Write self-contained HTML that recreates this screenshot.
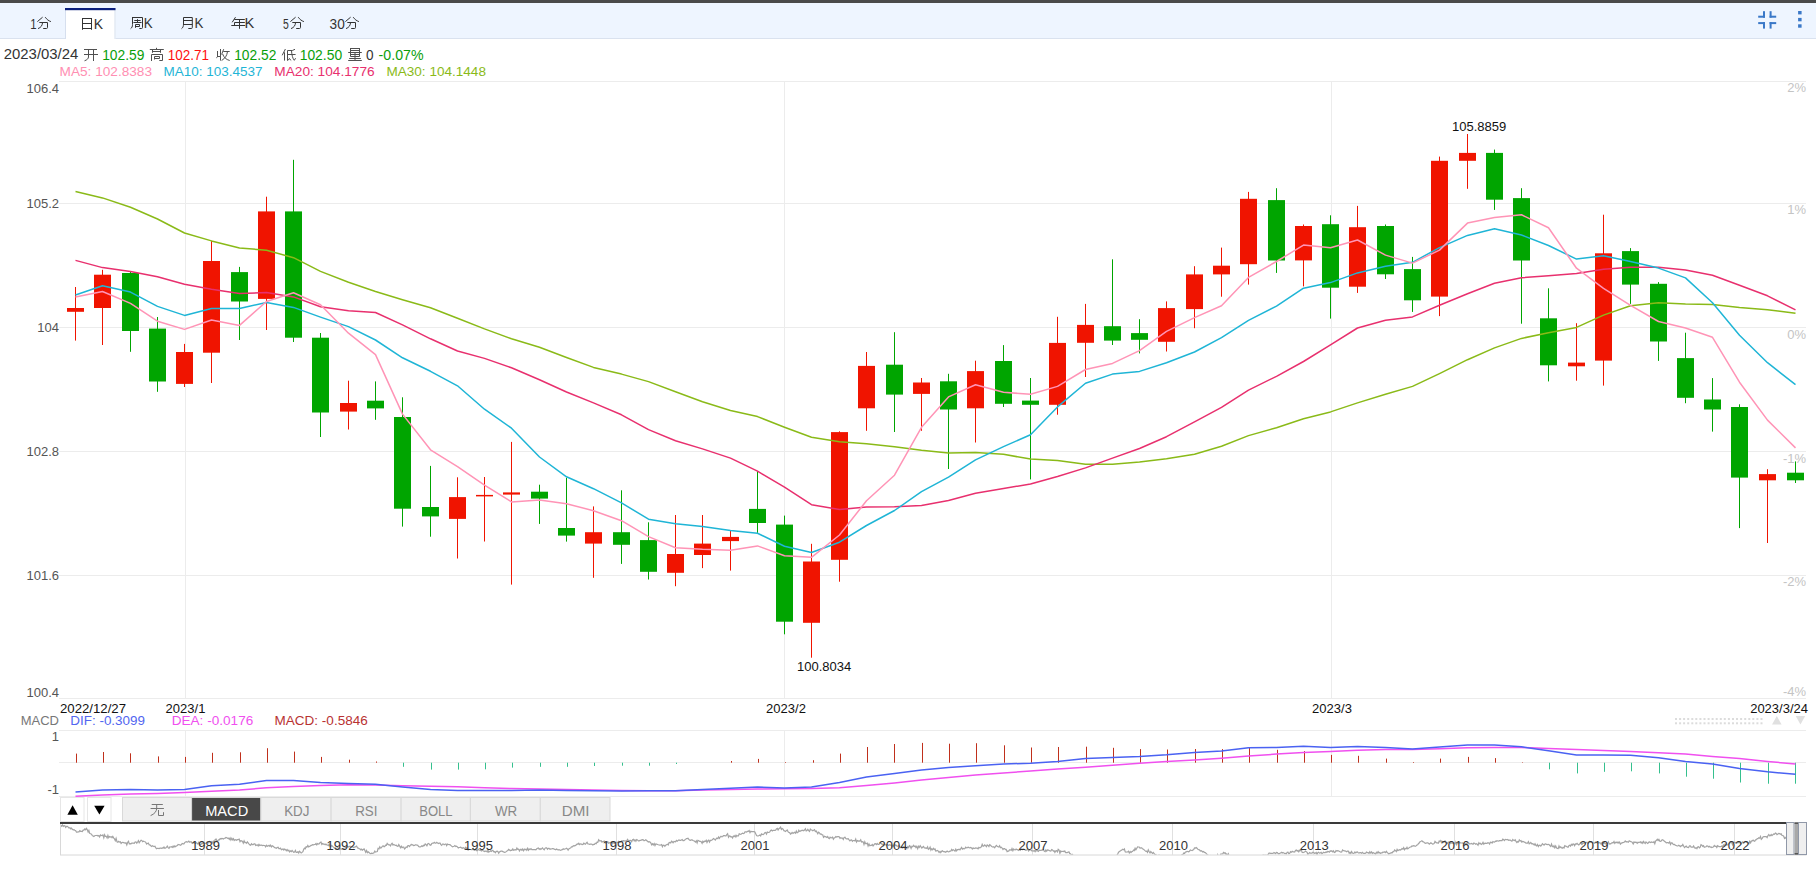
<!DOCTYPE html>
<html><head><meta charset="utf-8">
<style>
html,body{margin:0;padding:0;}
body{width:1816px;height:888px;overflow:hidden;background:#fff;position:relative;font-family:"Liberation Sans",sans-serif;}
svg{position:absolute;left:0;top:0;display:block;}
svg text{font-family:"Liberation Sans",sans-serif;}
</style></head><body>
<svg width="1816" height="888" viewBox="0 0 1816 888">
<rect x="0" y="0" width="1816" height="3" fill="#4a4a4a"/>
<rect x="0" y="3" width="1816" height="35" fill="#eef5ff"/>
<rect x="0" y="38" width="1816" height="1" fill="#dae2ef"/>
<rect x="65" y="8" width="50.5" height="31" fill="#fff"/>
<rect x="65" y="8" width="1" height="31" fill="#d6dfee"/>
<rect x="114.5" y="8" width="1" height="31" fill="#d6dfee"/>
<rect x="65" y="8" width="50.5" height="2.2" fill="#0b1f7c"/>
<path d="M42.6,17.2 L37.4,21.6 M45.2,17.2 C47,19.5 48.5,20.8 50.9,21.6 M39.3,22.5 H47.5 V27.5 C47.5,28.2 47.2,28.5 46.3,28.5 H43.2 M42.5,22.8 C42.3,25.5 41,27.5 38,28.6" fill="none" stroke="#333" stroke-width="1"/>
<path d="M82.5,18 V29.8 M91.5,18 V29.8 M82.5,18.5 H91.5 M82.5,23.5 H91.5 M82.5,28.5 H91.5" fill="none" stroke="#333" stroke-width="1"/>
<path d="M132,17.5 H142.5 V27.5 C142.5,28.2 142.2,28.5 141.5,28.5 H139.3 M132.5,17.5 V24.5 C132.5,26.5 132,27.8 130.6,28.7 M134.3,20.5 H140.6 M137.5,19.2 V22.5 M133.4,22.5 H141.6 M135.5,27.8 V24.5 H139.5 V26.5 H135.5" fill="none" stroke="#333" stroke-width="1"/>
<path d="M183.5,17.5 H192.3 V27.5 C192.3,28.2 192,28.5 191.3,28.5 H188.3 M183.5,17.5 V24 C183.5,26.2 183,27.7 181.5,28.7 M183.5,20.5 H192.3 M183.5,24.5 H192.3" fill="none" stroke="#333" stroke-width="1"/>
<path d="M235.5,17.2 L232.2,22.3 M234.3,19.5 H244.8 M234.5,22.5 H244.8 M234.5,22.5 V25.5 M231.3,25.5 H245.2 M239.5,19.5 V28.8" fill="none" stroke="#333" stroke-width="1"/>
<path d="M42.6,17.2 L37.4,21.6 M45.2,17.2 C47,19.5 48.5,20.8 50.9,21.6 M39.3,22.5 H47.5 V27.5 C47.5,28.2 47.2,28.5 46.3,28.5 H43.2 M42.5,22.8 C42.3,25.5 41,27.5 38,28.6" transform="translate(253,0)" fill="none" stroke="#333" stroke-width="1"/>
<path d="M42.6,17.2 L37.4,21.6 M45.2,17.2 C47,19.5 48.5,20.8 50.9,21.6 M39.3,22.5 H47.5 V27.5 C47.5,28.2 47.2,28.5 46.3,28.5 H43.2 M42.5,22.8 C42.3,25.5 41,27.5 38,28.6" transform="translate(308,0)" fill="none" stroke="#333" stroke-width="1"/>
<rect x="1763" y="11.2" width="2" height="6.5" fill="#3a78c8"/>
<rect x="1758.2" y="15.7" width="6.8" height="2" fill="#3a78c8"/>
<rect x="1769.6" y="11.2" width="2" height="6.5" fill="#3a78c8"/>
<rect x="1769.6" y="15.7" width="6.6" height="2" fill="#3a78c8"/>
<rect x="1758.2" y="22.1" width="6.8" height="2" fill="#3a78c8"/>
<rect x="1763" y="22.1" width="2" height="6.5" fill="#3a78c8"/>
<rect x="1769.6" y="22.1" width="6.6" height="2" fill="#3a78c8"/>
<rect x="1769.6" y="22.1" width="2" height="6.5" fill="#3a78c8"/>
<rect x="1798.1" y="11" width="3.5" height="3.4" fill="#3a78c8"/>
<rect x="1798.1" y="17.9" width="3.5" height="3.4" fill="#3a78c8"/>
<rect x="1798.1" y="24.3" width="3.5" height="3.4" fill="#3a78c8"/>
<path d="M84,49.5 H97 M84,54.5 H98 M88.5,49.5 V57 C88.5,58.5 87,60 84.5,60.8 M93.5,49.5 V61" fill="none" stroke="#505050" stroke-width="1"/>
<path d="M156.5,47.8 V49.5 M149.8,49.5 H163.8 M152.5,50 V52.8 M160.5,50 V52.8 M152.5,51.5 H160.5 M151.5,61 V54.5 H162.5 V60.5 H159.3 M154.5,59.5 V56.5 H159.5 V58.5 H154.5" fill="none" stroke="#505050" stroke-width="1"/>
<path d="M217.5,51 V57 L216.3,57.8 M217.5,56.5 H220 M220.5,49 V60.6 M223.7,49.2 L221.6,54.5 M223.3,51.5 H229.7 M227.4,52 C227,55.5 225,58.5 221.6,60.5 M222.6,54 C224,57.5 226,59.5 229.7,60.5" fill="none" stroke="#505050" stroke-width="1"/>
<path d="M285.4,49 L282.2,55.3 M284.5,52.3 V60.6 M287.5,50.5 H292.3 L295,49.3 M287.5,50.5 V60.5 L289.5,58.8 M287.5,54.5 H295.6 M291.5,50.8 C291.8,55 292.8,59 294.3,60.3 L295.6,58.2 M288.8,58.2 L291.2,60.4" fill="none" stroke="#505050" stroke-width="1"/>
<path d="M350.5,48 V56.5 M359.5,48 V56.5 M350.5,48.5 H359.5 M350.5,50.5 H359.5 M348.2,52.5 H361.8 M350.5,54.5 H359.5 M350.5,56.5 H359.5 M355,52.5 V60.5 M349.2,58.5 H360.8 M348.2,60.5 H361.8" fill="none" stroke="#505050" stroke-width="1"/>
<line x1="59" y1="81.5" x2="1806" y2="81.5" stroke="#ececec" stroke-width="1"/>
<line x1="59" y1="203.5" x2="1806" y2="203.5" stroke="#ececec" stroke-width="1"/>
<line x1="59" y1="327.5" x2="1806" y2="327.5" stroke="#ececec" stroke-width="1"/>
<line x1="59" y1="451.5" x2="1806" y2="451.5" stroke="#ececec" stroke-width="1"/>
<line x1="59" y1="575.5" x2="1806" y2="575.5" stroke="#ececec" stroke-width="1"/>
<line x1="59" y1="698.5" x2="1806" y2="698.5" stroke="#ececec" stroke-width="1"/>
<line x1="185.5" y1="81.5" x2="185.5" y2="698.5" stroke="#ececec" stroke-width="1"/>
<line x1="784.5" y1="81.5" x2="784.5" y2="698.5" stroke="#ececec" stroke-width="1"/>
<line x1="1331.5" y1="81.5" x2="1331.5" y2="698.5" stroke="#ececec" stroke-width="1"/>
<line x1="59" y1="730.5" x2="1806" y2="730.5" stroke="#ececec" stroke-width="1"/>
<line x1="59" y1="762.5" x2="1806" y2="762.5" stroke="#ececec" stroke-width="1"/>
<line x1="59" y1="796.5" x2="1806" y2="796.5" stroke="#ececec" stroke-width="1"/>
<line x1="185.5" y1="730.5" x2="185.5" y2="796.5" stroke="#ececec" stroke-width="1"/>
<line x1="784.5" y1="730.5" x2="784.5" y2="796.5" stroke="#ececec" stroke-width="1"/>
<line x1="1331.5" y1="730.5" x2="1331.5" y2="796.5" stroke="#ececec" stroke-width="1"/>
<rect x="75" y="287.0" width="1" height="53.6" fill="#f01400"/>
<rect x="67" y="308.0" width="17" height="3.8" fill="#f01400"/>
<rect x="102" y="269.8" width="1" height="75.2" fill="#f01400"/>
<rect x="94" y="274.7" width="17" height="33.3" fill="#f01400"/>
<rect x="130" y="272.0" width="1" height="79.8" fill="#00a500"/>
<rect x="122" y="273.0" width="17" height="58.0" fill="#00a500"/>
<rect x="157" y="317.0" width="1" height="74.8" fill="#00a500"/>
<rect x="149" y="328.6" width="17" height="52.9" fill="#00a500"/>
<rect x="184" y="343.9" width="1" height="43.1" fill="#f01400"/>
<rect x="176" y="352.0" width="17" height="31.9" fill="#f01400"/>
<rect x="211" y="240.8" width="1" height="142.2" fill="#f01400"/>
<rect x="203" y="261.0" width="17" height="91.7" fill="#f01400"/>
<rect x="239" y="266.9" width="1" height="73.1" fill="#00a500"/>
<rect x="231" y="272.1" width="17" height="29.4" fill="#00a500"/>
<rect x="266" y="196.7" width="1" height="133.3" fill="#f01400"/>
<rect x="258" y="211.4" width="17" height="87.5" fill="#f01400"/>
<rect x="293" y="159.8" width="1" height="182.2" fill="#00a500"/>
<rect x="285" y="211.4" width="17" height="126.3" fill="#00a500"/>
<rect x="320" y="333.0" width="1" height="104.0" fill="#00a500"/>
<rect x="312" y="337.7" width="17" height="74.8" fill="#00a500"/>
<rect x="348" y="380.7" width="1" height="48.8" fill="#f01400"/>
<rect x="340" y="403.0" width="17" height="8.6" fill="#f01400"/>
<rect x="375" y="381.4" width="1" height="38.4" fill="#00a500"/>
<rect x="367" y="400.7" width="17" height="7.7" fill="#00a500"/>
<rect x="402" y="397.3" width="1" height="129.3" fill="#00a500"/>
<rect x="394" y="417.0" width="17" height="91.7" fill="#00a500"/>
<rect x="430" y="465.9" width="1" height="70.8" fill="#00a500"/>
<rect x="422" y="507.0" width="17" height="9.4" fill="#00a500"/>
<rect x="457" y="477.3" width="1" height="81.2" fill="#f01400"/>
<rect x="449" y="497.1" width="17" height="21.8" fill="#f01400"/>
<rect x="484" y="477.0" width="1" height="64.5" fill="#f01400"/>
<rect x="476" y="494.9" width="17" height="1.5" fill="#f01400"/>
<rect x="511" y="441.9" width="1" height="142.7" fill="#f01400"/>
<rect x="503" y="492.4" width="17" height="2.2" fill="#f01400"/>
<rect x="539" y="484.7" width="1" height="39.2" fill="#00a500"/>
<rect x="531" y="491.7" width="17" height="6.9" fill="#00a500"/>
<rect x="566" y="477.7" width="1" height="63.9" fill="#00a500"/>
<rect x="558" y="528.0" width="17" height="7.6" fill="#00a500"/>
<rect x="593" y="506.4" width="1" height="71.4" fill="#f01400"/>
<rect x="585" y="532.2" width="17" height="11.4" fill="#f01400"/>
<rect x="621" y="490.3" width="1" height="73.6" fill="#00a500"/>
<rect x="613" y="532.2" width="17" height="12.6" fill="#00a500"/>
<rect x="648" y="522.3" width="1" height="57.2" fill="#00a500"/>
<rect x="640" y="540.1" width="17" height="31.7" fill="#00a500"/>
<rect x="675" y="515.0" width="1" height="71.2" fill="#f01400"/>
<rect x="667" y="554.0" width="17" height="18.8" fill="#f01400"/>
<rect x="702" y="515.0" width="1" height="53.1" fill="#f01400"/>
<rect x="694" y="543.6" width="17" height="11.4" fill="#f01400"/>
<rect x="730" y="530.9" width="1" height="39.7" fill="#f01400"/>
<rect x="722" y="536.9" width="17" height="4.2" fill="#f01400"/>
<rect x="757" y="471.2" width="1" height="61.7" fill="#00a500"/>
<rect x="749" y="508.9" width="17" height="14.1" fill="#00a500"/>
<rect x="784" y="515.6" width="1" height="118.7" fill="#00a500"/>
<rect x="776" y="524.6" width="17" height="97.1" fill="#00a500"/>
<rect x="811" y="543.8" width="1" height="113.9" fill="#f01400"/>
<rect x="803" y="561.5" width="17" height="61.3" fill="#f01400"/>
<rect x="839" y="431.3" width="1" height="150.4" fill="#f01400"/>
<rect x="831" y="432.1" width="17" height="127.7" fill="#f01400"/>
<rect x="866" y="352.0" width="1" height="78.8" fill="#f01400"/>
<rect x="858" y="365.9" width="17" height="42.4" fill="#f01400"/>
<rect x="894" y="332.2" width="1" height="99.8" fill="#00a500"/>
<rect x="886" y="364.7" width="17" height="29.9" fill="#00a500"/>
<rect x="921" y="378.0" width="1" height="52.8" fill="#f01400"/>
<rect x="913" y="382.5" width="17" height="11.4" fill="#f01400"/>
<rect x="948" y="373.8" width="1" height="95.2" fill="#00a500"/>
<rect x="940" y="381.3" width="17" height="28.2" fill="#00a500"/>
<rect x="975" y="360.7" width="1" height="81.8" fill="#f01400"/>
<rect x="967" y="371.1" width="17" height="37.2" fill="#f01400"/>
<rect x="1003" y="345.1" width="1" height="61.9" fill="#00a500"/>
<rect x="995" y="361.0" width="17" height="42.8" fill="#00a500"/>
<rect x="1030" y="378.0" width="1" height="101.4" fill="#00a500"/>
<rect x="1022" y="400.6" width="17" height="4.2" fill="#00a500"/>
<rect x="1057" y="316.8" width="1" height="97.9" fill="#f01400"/>
<rect x="1049" y="342.9" width="17" height="61.9" fill="#f01400"/>
<rect x="1085" y="303.9" width="1" height="73.1" fill="#f01400"/>
<rect x="1077" y="324.9" width="17" height="17.9" fill="#f01400"/>
<rect x="1112" y="259.3" width="1" height="85.7" fill="#00a500"/>
<rect x="1104" y="326.2" width="17" height="14.4" fill="#00a500"/>
<rect x="1139" y="319.2" width="1" height="34.2" fill="#00a500"/>
<rect x="1131" y="333.1" width="17" height="6.7" fill="#00a500"/>
<rect x="1166" y="301.4" width="1" height="50.1" fill="#f01400"/>
<rect x="1158" y="308.1" width="17" height="33.7" fill="#f01400"/>
<rect x="1194" y="266.2" width="1" height="62.0" fill="#f01400"/>
<rect x="1186" y="274.4" width="17" height="34.7" fill="#f01400"/>
<rect x="1221" y="247.6" width="1" height="49.1" fill="#f01400"/>
<rect x="1213" y="265.7" width="17" height="8.7" fill="#f01400"/>
<rect x="1248" y="191.9" width="1" height="92.7" fill="#f01400"/>
<rect x="1240" y="198.8" width="17" height="65.4" fill="#f01400"/>
<rect x="1276" y="188.2" width="1" height="84.7" fill="#00a500"/>
<rect x="1268" y="200.1" width="17" height="60.4" fill="#00a500"/>
<rect x="1303" y="224.5" width="1" height="61.9" fill="#f01400"/>
<rect x="1295" y="226.0" width="17" height="34.4" fill="#f01400"/>
<rect x="1330" y="215.3" width="1" height="103.3" fill="#00a500"/>
<rect x="1322" y="224.2" width="17" height="63.5" fill="#00a500"/>
<rect x="1357" y="205.9" width="1" height="87.0" fill="#f01400"/>
<rect x="1349" y="227.2" width="17" height="59.5" fill="#f01400"/>
<rect x="1385" y="224.5" width="1" height="54.5" fill="#00a500"/>
<rect x="1377" y="226.0" width="17" height="48.3" fill="#00a500"/>
<rect x="1412" y="256.9" width="1" height="55.0" fill="#00a500"/>
<rect x="1404" y="269.1" width="17" height="31.2" fill="#00a500"/>
<rect x="1439" y="156.6" width="1" height="159.5" fill="#f01400"/>
<rect x="1431" y="160.8" width="17" height="135.8" fill="#f01400"/>
<rect x="1467" y="134.0" width="1" height="54.8" fill="#f01400"/>
<rect x="1459" y="152.9" width="17" height="7.9" fill="#f01400"/>
<rect x="1494" y="149.6" width="1" height="60.3" fill="#00a500"/>
<rect x="1486" y="152.9" width="17" height="46.8" fill="#00a500"/>
<rect x="1521" y="188.2" width="1" height="135.5" fill="#00a500"/>
<rect x="1513" y="198.1" width="17" height="62.4" fill="#00a500"/>
<rect x="1548" y="288.3" width="1" height="93.1" fill="#00a500"/>
<rect x="1540" y="318.3" width="17" height="47.0" fill="#00a500"/>
<rect x="1576" y="323.2" width="1" height="57.5" fill="#f01400"/>
<rect x="1568" y="362.6" width="17" height="3.7" fill="#f01400"/>
<rect x="1603" y="214.7" width="1" height="170.9" fill="#f01400"/>
<rect x="1595" y="253.3" width="17" height="107.3" fill="#f01400"/>
<rect x="1630" y="248.1" width="1" height="55.8" fill="#00a500"/>
<rect x="1622" y="251.1" width="17" height="33.5" fill="#00a500"/>
<rect x="1658" y="282.1" width="1" height="78.8" fill="#00a500"/>
<rect x="1650" y="283.8" width="17" height="57.7" fill="#00a500"/>
<rect x="1685" y="332.7" width="1" height="70.5" fill="#00a500"/>
<rect x="1677" y="358.1" width="17" height="39.7" fill="#00a500"/>
<rect x="1712" y="378.1" width="1" height="53.5" fill="#00a500"/>
<rect x="1704" y="399.5" width="17" height="10.0" fill="#00a500"/>
<rect x="1739" y="404.3" width="1" height="123.8" fill="#00a500"/>
<rect x="1731" y="407.0" width="17" height="70.6" fill="#00a500"/>
<rect x="1767" y="469.2" width="1" height="73.8" fill="#f01400"/>
<rect x="1759" y="474.1" width="17" height="6.2" fill="#f01400"/>
<rect x="1795" y="461.4" width="1" height="21.6" fill="#00a500"/>
<rect x="1787" y="472.7" width="17" height="7.6" fill="#00a500"/>
<polyline points="75.5,191.6 102.5,197.9 130.5,207.2 157.5,219.0 184.5,233.0 211.5,240.9 239.5,248.0 266.5,250.2 293.5,257.7 320.5,271.4 348.5,282.3 375.5,291.5 402.5,299.7 430.5,307.8 457.5,318.2 484.5,328.9 511.5,338.8 539.5,347.2 566.5,357.5 593.5,367.4 621.5,374.1 648.5,381.6 675.5,391.7 702.5,401.8 730.5,410.5 757.5,416.6 784.5,427.2 811.5,437.3 839.5,441.8 866.5,443.8 894.5,446.7 921.5,450.3 948.5,452.9 975.5,452.5 1003.5,454.3 1030.5,459.1 1057.5,460.4 1085.5,464.2 1112.5,464.3 1139.5,461.9 1166.5,458.7 1194.5,454.3 1221.5,446.2 1248.5,435.6 1276.5,427.7 1303.5,418.7 1330.5,411.9 1357.5,402.9 1385.5,394.2 1412.5,386.4 1439.5,373.6 1467.5,359.7 1494.5,347.9 1521.5,338.4 1548.5,332.7 1576.5,327.4 1603.5,315.1 1630.5,305.8 1658.5,302.8 1685.5,303.9 1712.5,304.4 1739.5,307.6 1767.5,309.7 1795.5,313.3" fill="none" stroke="#8aba18" stroke-width="1.5" stroke-linejoin="round"/>
<polyline points="75.5,260.4 102.5,267.6 130.5,271.5 157.5,276.8 184.5,284.3 211.5,289.3 239.5,293.6 266.5,292.5 293.5,296.9 320.5,306.7 348.5,310.7 375.5,312.5 402.5,324.9 430.5,338.8 457.5,351.0 484.5,358.4 511.5,367.8 539.5,379.7 566.5,392.0 593.5,402.9 621.5,414.8 648.5,429.6 675.5,440.8 702.5,448.9 730.5,458.1 757.5,471.2 784.5,487.2 811.5,504.7 839.5,509.5 866.5,507.1 894.5,506.7 921.5,505.4 948.5,500.5 975.5,493.2 1003.5,488.5 1030.5,484.0 1057.5,476.5 1085.5,467.9 1112.5,458.1 1139.5,448.5 1166.5,436.7 1194.5,421.8 1221.5,407.4 1248.5,390.1 1276.5,376.3 1303.5,361.5 1330.5,344.8 1357.5,328.0 1385.5,320.2 1412.5,316.9 1439.5,305.2 1467.5,293.7 1494.5,283.2 1521.5,277.7 1548.5,275.8 1576.5,273.6 1603.5,269.2 1630.5,267.2 1658.5,267.2 1685.5,270.1 1712.5,275.2 1739.5,285.3 1767.5,295.8 1795.5,309.8" fill="none" stroke="#e8306e" stroke-width="1.5" stroke-linejoin="round"/>
<polyline points="75.5,295.0 102.5,285.7 130.5,292.1 157.5,306.4 184.5,315.4 211.5,308.6 239.5,308.4 266.5,302.5 293.5,307.4 320.5,317.1 348.5,326.6 375.5,340.0 402.5,357.8 430.5,371.3 457.5,385.8 484.5,409.2 511.5,428.2 539.5,457.0 566.5,476.8 593.5,488.7 621.5,502.9 648.5,519.2 675.5,523.8 702.5,526.5 730.5,530.5 757.5,533.3 784.5,546.2 811.5,552.5 839.5,542.2 866.5,525.5 894.5,510.5 921.5,491.6 948.5,477.1 975.5,459.9 1003.5,446.6 1030.5,434.8 1057.5,406.9 1085.5,383.2 1112.5,374.1 1139.5,371.4 1166.5,362.8 1194.5,352.0 1221.5,337.6 1248.5,320.4 1276.5,306.1 1303.5,288.2 1330.5,282.6 1357.5,272.9 1385.5,266.2 1412.5,262.3 1439.5,247.6 1467.5,235.4 1494.5,228.8 1521.5,235.0 1548.5,245.5 1576.5,259.1 1603.5,255.7 1630.5,261.4 1658.5,268.1 1685.5,277.9 1712.5,302.8 1739.5,335.2 1767.5,362.7 1795.5,384.7" fill="none" stroke="#1fb5d6" stroke-width="1.5" stroke-linejoin="round"/>
<polyline points="75.5,297.0 102.5,291.5 130.5,303.4 157.5,321.2 184.5,329.4 211.5,320.0 239.5,325.4 266.5,301.5 293.5,292.7 320.5,304.8 348.5,333.2 375.5,354.6 402.5,414.1 430.5,449.8 457.5,466.7 484.5,485.1 511.5,501.9 539.5,499.9 566.5,503.7 593.5,510.7 621.5,520.7 648.5,536.6 675.5,547.7 702.5,549.3 730.5,550.2 757.5,545.9 784.5,555.8 811.5,557.3 839.5,535.0 866.5,500.8 894.5,475.2 921.5,427.3 948.5,396.9 975.5,384.7 1003.5,392.3 1030.5,394.3 1057.5,386.4 1085.5,369.5 1112.5,363.4 1139.5,350.6 1166.5,331.3 1194.5,317.6 1221.5,305.7 1248.5,277.4 1276.5,261.5 1303.5,245.1 1330.5,247.7 1357.5,240.0 1385.5,255.1 1412.5,263.1 1439.5,250.1 1467.5,223.1 1494.5,217.6 1521.5,214.8 1548.5,227.8 1576.5,268.2 1603.5,288.3 1630.5,305.3 1658.5,321.5 1685.5,328.0 1712.5,337.3 1739.5,382.2 1767.5,420.1 1795.5,447.9" fill="none" stroke="#ff94b6" stroke-width="1.5" stroke-linejoin="round"/>
<rect x="76" y="753.6" width="1" height="9.1" fill="#c0301c"/>
<rect x="103" y="752.0" width="1" height="10.7" fill="#c0301c"/>
<rect x="130" y="753.3" width="1" height="9.4" fill="#c0301c"/>
<rect x="158" y="756.4" width="1" height="6.3" fill="#c0301c"/>
<rect x="185" y="756.9" width="1" height="5.8" fill="#c0301c"/>
<rect x="212" y="752.8" width="1" height="9.9" fill="#c0301c"/>
<rect x="240" y="752.3" width="1" height="10.4" fill="#c0301c"/>
<rect x="267" y="748.2" width="1" height="14.5" fill="#c0301c"/>
<rect x="294" y="751.6" width="1" height="11.1" fill="#c0301c"/>
<rect x="321" y="756.9" width="1" height="5.8" fill="#c0301c"/>
<rect x="349" y="759.7" width="1" height="3.0" fill="#c0301c"/>
<rect x="376" y="761.5" width="1" height="1.2" fill="#c0301c"/>
<rect x="403" y="762.7" width="1" height="4.1" fill="#35c08e"/>
<rect x="431" y="762.7" width="1" height="6.9" fill="#35c08e"/>
<rect x="458" y="762.7" width="1" height="6.9" fill="#35c08e"/>
<rect x="485" y="762.7" width="1" height="6.6" fill="#35c08e"/>
<rect x="512" y="762.7" width="1" height="4.9" fill="#35c08e"/>
<rect x="540" y="762.7" width="1" height="4.1" fill="#35c08e"/>
<rect x="567" y="762.7" width="1" height="4.1" fill="#35c08e"/>
<rect x="594" y="762.7" width="1" height="3.3" fill="#35c08e"/>
<rect x="622" y="762.7" width="1" height="3.0" fill="#35c08e"/>
<rect x="649" y="762.7" width="1" height="3.0" fill="#35c08e"/>
<rect x="676" y="762.7" width="1" height="1.3" fill="#35c08e"/>
<rect x="731" y="761.0" width="1" height="1.7" fill="#c0301c"/>
<rect x="758" y="758.9" width="1" height="3.8" fill="#c0301c"/>
<rect x="785" y="762.0" width="1" height="0.7" fill="#c0301c"/>
<rect x="813" y="760.2" width="1" height="2.5" fill="#c0301c"/>
<rect x="840" y="753.6" width="1" height="9.1" fill="#c0301c"/>
<rect x="867" y="747.0" width="1" height="15.7" fill="#c0301c"/>
<rect x="894" y="744.0" width="1" height="18.7" fill="#c0301c"/>
<rect x="922" y="742.9" width="1" height="19.8" fill="#c0301c"/>
<rect x="949" y="743.7" width="1" height="19.0" fill="#c0301c"/>
<rect x="976" y="743.2" width="1" height="19.5" fill="#c0301c"/>
<rect x="1004" y="745.3" width="1" height="17.4" fill="#c0301c"/>
<rect x="1031" y="747.5" width="1" height="15.2" fill="#c0301c"/>
<rect x="1058" y="747.0" width="1" height="15.7" fill="#c0301c"/>
<rect x="1086" y="746.7" width="1" height="16.0" fill="#c0301c"/>
<rect x="1113" y="747.8" width="1" height="14.9" fill="#c0301c"/>
<rect x="1140" y="749.1" width="1" height="13.6" fill="#c0301c"/>
<rect x="1167" y="749.5" width="1" height="13.2" fill="#c0301c"/>
<rect x="1195" y="749.0" width="1" height="13.7" fill="#c0301c"/>
<rect x="1222" y="749.1" width="1" height="13.6" fill="#c0301c"/>
<rect x="1249" y="747.2" width="1" height="15.5" fill="#c0301c"/>
<rect x="1277" y="749.8" width="1" height="12.9" fill="#c0301c"/>
<rect x="1304" y="751.1" width="1" height="11.6" fill="#c0301c"/>
<rect x="1331" y="754.9" width="1" height="7.8" fill="#c0301c"/>
<rect x="1358" y="755.8" width="1" height="6.9" fill="#c0301c"/>
<rect x="1386" y="758.6" width="1" height="4.1" fill="#c0301c"/>
<rect x="1413" y="762.0" width="1" height="0.7" fill="#c0301c"/>
<rect x="1440" y="758.6" width="1" height="4.1" fill="#c0301c"/>
<rect x="1468" y="756.9" width="1" height="5.8" fill="#c0301c"/>
<rect x="1495" y="758.1" width="1" height="4.6" fill="#c0301c"/>
<rect x="1522" y="762.2" width="1" height="0.5" fill="#c0301c"/>
<rect x="1549" y="762.7" width="1" height="6.6" fill="#35c08e"/>
<rect x="1577" y="762.7" width="1" height="10.7" fill="#35c08e"/>
<rect x="1604" y="762.7" width="1" height="9.1" fill="#35c08e"/>
<rect x="1631" y="762.7" width="1" height="8.6" fill="#35c08e"/>
<rect x="1659" y="762.7" width="1" height="10.7" fill="#35c08e"/>
<rect x="1686" y="762.7" width="1" height="14.0" fill="#35c08e"/>
<rect x="1713" y="762.7" width="1" height="16.0" fill="#35c08e"/>
<rect x="1740" y="762.7" width="1" height="19.8" fill="#35c08e"/>
<rect x="1768" y="762.7" width="1" height="21.0" fill="#35c08e"/>
<rect x="1795" y="762.7" width="1" height="21.0" fill="#35c08e"/>
<polyline points="75.5,796.2 102.5,794.9 130.5,794.0 157.5,793.4 184.5,792.4 211.5,791.3 239.5,790.0 266.5,787.8 293.5,786.6 320.5,785.5 348.5,784.7 375.5,785.0 402.5,785.8 430.5,786.2 457.5,786.8 484.5,787.8 511.5,788.5 539.5,789.1 566.5,789.5 593.5,790.0 621.5,790.4 648.5,790.8 675.5,790.8 702.5,790.0 730.5,789.5 757.5,789.1 784.5,788.8 811.5,788.6 839.5,787.8 866.5,785.5 894.5,783.0 921.5,780.0 948.5,777.4 975.5,775.1 1003.5,772.9 1030.5,771.0 1057.5,769.0 1085.5,767.2 1112.5,765.2 1139.5,763.2 1166.5,761.5 1194.5,759.9 1221.5,758.2 1248.5,756.1 1276.5,754.1 1303.5,752.5 1330.5,751.5 1357.5,750.3 1385.5,749.5 1412.5,749.5 1439.5,748.7 1467.5,747.8 1494.5,747.5 1521.5,747.5 1548.5,748.5 1576.5,749.5 1603.5,750.6 1630.5,751.6 1658.5,752.8 1685.5,754.1 1712.5,756.4 1739.5,758.6 1767.5,761.5 1795.5,764.0" fill="none" stroke="#f050ef" stroke-width="1.5" stroke-linejoin="round"/>
<polyline points="75.5,792.0 102.5,790.0 130.5,789.5 157.5,790.0 184.5,789.5 211.5,785.8 239.5,784.2 266.5,780.5 293.5,780.5 320.5,782.5 348.5,783.5 375.5,784.2 402.5,787.1 430.5,789.5 457.5,790.4 484.5,790.4 511.5,790.4 539.5,790.0 566.5,790.4 593.5,790.8 621.5,791.1 648.5,790.8 675.5,790.8 702.5,789.5 730.5,788.3 757.5,787.0 784.5,788.0 811.5,787.1 839.5,782.5 866.5,777.0 894.5,773.4 921.5,770.1 948.5,767.5 975.5,765.7 1003.5,764.0 1030.5,763.2 1057.5,761.5 1085.5,758.6 1112.5,757.4 1139.5,756.4 1166.5,754.8 1194.5,752.5 1221.5,751.1 1248.5,747.8 1276.5,747.5 1303.5,746.2 1330.5,747.5 1357.5,746.5 1385.5,747.5 1412.5,749.0 1439.5,747.0 1467.5,745.0 1494.5,745.0 1521.5,746.8 1548.5,750.7 1576.5,754.9 1603.5,754.9 1630.5,755.3 1658.5,757.7 1685.5,761.5 1712.5,764.0 1739.5,768.5 1767.5,771.8 1795.5,774.3" fill="none" stroke="#4a62f2" stroke-width="1.5" stroke-linejoin="round"/>
<text x="59" y="92.5" fill="#555" font-size="13" text-anchor="end" >106.4</text>
<text x="59" y="208" fill="#555" font-size="13" text-anchor="end" >105.2</text>
<text x="59" y="332" fill="#555" font-size="13" text-anchor="end" >104</text>
<text x="59" y="456" fill="#555" font-size="13" text-anchor="end" >102.8</text>
<text x="59" y="580" fill="#555" font-size="13" text-anchor="end" >101.6</text>
<text x="59" y="696.7" fill="#555" font-size="13" text-anchor="end" >100.4</text>
<text x="1806" y="92.2" fill="#c4c4c4" font-size="13" text-anchor="end" >2%</text>
<text x="1806" y="214.2" fill="#c4c4c4" font-size="13" text-anchor="end" >1%</text>
<text x="1806" y="338.8" fill="#c4c4c4" font-size="13" text-anchor="end" >0%</text>
<text x="1806" y="462.7" fill="#c4c4c4" font-size="13" text-anchor="end" >-1%</text>
<text x="1806" y="585.5" fill="#c4c4c4" font-size="13" text-anchor="end" >-2%</text>
<text x="1806" y="696.2" fill="#c4c4c4" font-size="13" text-anchor="end" >-4%</text>
<text x="60" y="713.2" fill="#111" font-size="13" text-anchor="start" textLength="66" lengthAdjust="spacingAndGlyphs">2022/12/27</text>
<text x="185.5" y="713.2" fill="#111" font-size="13" text-anchor="middle" >2023/1</text>
<text x="786" y="713.2" fill="#111" font-size="13" text-anchor="middle" >2023/2</text>
<text x="1332" y="713.2" fill="#111" font-size="13" text-anchor="middle" >2023/3</text>
<text x="1808" y="713.2" fill="#111" font-size="13" text-anchor="end" >2023/3/24</text>
<text x="797" y="670.9" fill="#111" font-size="13" text-anchor="start" >100.8034</text>
<text x="1452" y="131.3" fill="#111" font-size="13" text-anchor="start" >105.8859</text>
<text x="59" y="724.7" fill="#777" font-size="13" text-anchor="end" >MACD</text>
<text x="59" y="741" fill="#555" font-size="13" text-anchor="end" >1</text>
<text x="59" y="793.5" fill="#555" font-size="13" text-anchor="end" >-1</text>
<rect x="1675.0" y="718" width="2" height="2" fill="#dcdcdc"/>
<rect x="1679.1" y="718" width="2" height="2" fill="#dcdcdc"/>
<rect x="1683.1" y="718" width="2" height="2" fill="#dcdcdc"/>
<rect x="1687.2" y="718" width="2" height="2" fill="#dcdcdc"/>
<rect x="1691.3" y="718" width="2" height="2" fill="#dcdcdc"/>
<rect x="1695.3" y="718" width="2" height="2" fill="#dcdcdc"/>
<rect x="1699.4" y="718" width="2" height="2" fill="#dcdcdc"/>
<rect x="1703.5" y="718" width="2" height="2" fill="#dcdcdc"/>
<rect x="1707.6" y="718" width="2" height="2" fill="#dcdcdc"/>
<rect x="1711.6" y="718" width="2" height="2" fill="#dcdcdc"/>
<rect x="1715.7" y="718" width="2" height="2" fill="#dcdcdc"/>
<rect x="1719.8" y="718" width="2" height="2" fill="#dcdcdc"/>
<rect x="1723.8" y="718" width="2" height="2" fill="#dcdcdc"/>
<rect x="1727.9" y="718" width="2" height="2" fill="#dcdcdc"/>
<rect x="1732.0" y="718" width="2" height="2" fill="#dcdcdc"/>
<rect x="1736.0" y="718" width="2" height="2" fill="#dcdcdc"/>
<rect x="1740.1" y="718" width="2" height="2" fill="#dcdcdc"/>
<rect x="1744.2" y="718" width="2" height="2" fill="#dcdcdc"/>
<rect x="1748.3" y="718" width="2" height="2" fill="#dcdcdc"/>
<rect x="1752.3" y="718" width="2" height="2" fill="#dcdcdc"/>
<rect x="1756.4" y="718" width="2" height="2" fill="#dcdcdc"/>
<rect x="1760.5" y="718" width="2" height="2" fill="#dcdcdc"/>
<rect x="1675.0" y="722.3" width="2" height="2" fill="#dcdcdc"/>
<rect x="1679.1" y="722.3" width="2" height="2" fill="#dcdcdc"/>
<rect x="1683.1" y="722.3" width="2" height="2" fill="#dcdcdc"/>
<rect x="1687.2" y="722.3" width="2" height="2" fill="#dcdcdc"/>
<rect x="1691.3" y="722.3" width="2" height="2" fill="#dcdcdc"/>
<rect x="1695.3" y="722.3" width="2" height="2" fill="#dcdcdc"/>
<rect x="1699.4" y="722.3" width="2" height="2" fill="#dcdcdc"/>
<rect x="1703.5" y="722.3" width="2" height="2" fill="#dcdcdc"/>
<rect x="1707.6" y="722.3" width="2" height="2" fill="#dcdcdc"/>
<rect x="1711.6" y="722.3" width="2" height="2" fill="#dcdcdc"/>
<rect x="1715.7" y="722.3" width="2" height="2" fill="#dcdcdc"/>
<rect x="1719.8" y="722.3" width="2" height="2" fill="#dcdcdc"/>
<rect x="1723.8" y="722.3" width="2" height="2" fill="#dcdcdc"/>
<rect x="1727.9" y="722.3" width="2" height="2" fill="#dcdcdc"/>
<rect x="1732.0" y="722.3" width="2" height="2" fill="#dcdcdc"/>
<rect x="1736.0" y="722.3" width="2" height="2" fill="#dcdcdc"/>
<rect x="1740.1" y="722.3" width="2" height="2" fill="#dcdcdc"/>
<rect x="1744.2" y="722.3" width="2" height="2" fill="#dcdcdc"/>
<rect x="1748.3" y="722.3" width="2" height="2" fill="#dcdcdc"/>
<rect x="1752.3" y="722.3" width="2" height="2" fill="#dcdcdc"/>
<rect x="1756.4" y="722.3" width="2" height="2" fill="#dcdcdc"/>
<rect x="1760.5" y="722.3" width="2" height="2" fill="#dcdcdc"/>
<path d="M1772,724.6 L1776.8,716 L1781.6,724.6 Z" fill="#e0e0e0"/>
<path d="M1795.7,716 L1805.2,716 L1800.45,724.6 Z" fill="#e0e0e0"/>
<rect x="60.5" y="797.5" width="23.5" height="24" fill="#fff" stroke="#e6e6e6"/>
<rect x="87.5" y="797.5" width="23.5" height="24" fill="#fff" stroke="#e6e6e6"/>
<path d="M67.4,814.8 L72.6,805.2 L77.8,814.8 Z" fill="#000"/>
<path d="M94.2,805.7 L104.6,805.7 L99.4,814.5 Z" fill="#000"/>
<rect x="122.5" y="797.5" width="69.1" height="23.5" fill="#efefef" stroke="#d9d9d9"/>
<path d="M151.7,804.5 H162.8 M150.6,808.5 H163.9 M156.7,804.5 V808.5 C156.5,811.5 154.5,814 150.6,815.6 M158.5,810 V815.5 H163.5 V812.2" fill="none" stroke="#777" stroke-width="1"/>
<rect x="191.6" y="797.5" width="69.3" height="23.5" fill="#484848" stroke="#d9d9d9"/>
<rect x="260.9" y="797.5" width="70.2" height="23.5" fill="#efefef" stroke="#d9d9d9"/>
<rect x="331.1" y="797.5" width="70.0" height="23.5" fill="#efefef" stroke="#d9d9d9"/>
<rect x="401.1" y="797.5" width="69.3" height="23.5" fill="#efefef" stroke="#d9d9d9"/>
<rect x="470.4" y="797.5" width="69.9" height="23.5" fill="#efefef" stroke="#d9d9d9"/>
<rect x="540.3" y="797.5" width="69.7" height="23.5" fill="#efefef" stroke="#d9d9d9"/>
<rect x="60.5" y="823.5" width="1745.5" height="31.5" fill="#fff" stroke="#d8d8d8" stroke-width="1"/>
<line x1="204.5" y1="824" x2="204.5" y2="855" stroke="#e0e0e0" stroke-width="1"/>
<line x1="340.5" y1="824" x2="340.5" y2="855" stroke="#e0e0e0" stroke-width="1"/>
<line x1="477.5" y1="824" x2="477.5" y2="855" stroke="#e0e0e0" stroke-width="1"/>
<line x1="616.5" y1="824" x2="616.5" y2="855" stroke="#e0e0e0" stroke-width="1"/>
<line x1="754.5" y1="824" x2="754.5" y2="855" stroke="#e0e0e0" stroke-width="1"/>
<line x1="892.5" y1="824" x2="892.5" y2="855" stroke="#e0e0e0" stroke-width="1"/>
<line x1="1032.5" y1="824" x2="1032.5" y2="855" stroke="#e0e0e0" stroke-width="1"/>
<line x1="1172.5" y1="824" x2="1172.5" y2="855" stroke="#e0e0e0" stroke-width="1"/>
<line x1="1313.5" y1="824" x2="1313.5" y2="855" stroke="#e0e0e0" stroke-width="1"/>
<line x1="1454.5" y1="824" x2="1454.5" y2="855" stroke="#e0e0e0" stroke-width="1"/>
<line x1="1593.5" y1="824" x2="1593.5" y2="855" stroke="#e0e0e0" stroke-width="1"/>
<line x1="1734.5" y1="824" x2="1734.5" y2="855" stroke="#e0e0e0" stroke-width="1"/>
<clipPath id="navclip"><rect x="61" y="824" width="1725" height="30.5"/></clipPath>
<polyline clip-path="url(#navclip)" points="60.8,825.4 61.6,826.3 62.4,824.9 63.3,826.4 64.1,825.7 64.9,825.8 65.7,827.5 66.6,826.4 67.4,826.4 68.2,827.1 69.0,828.0 69.9,827.7 70.7,828.8 71.5,828.2 72.3,829.2 73.2,829.8 74.0,829.7 74.8,830.2 75.7,830.7 76.5,832.2 77.3,832.1 78.2,831.8 79.0,831.8 79.8,830.6 80.6,831.3 81.5,831.3 82.3,831.5 83.1,830.1 83.9,830.2 84.8,828.9 85.6,829.8 86.4,828.4 87.2,829.6 88.1,832.1 88.9,830.5 89.7,833.4 90.5,833.8 91.3,834.0 92.2,835.3 93.0,836.1 93.8,836.5 94.7,835.7 95.5,835.5 96.3,835.5 97.1,835.3 98.0,836.0 98.8,835.5 99.6,836.9 100.5,834.9 101.3,835.5 102.1,835.7 102.9,834.9 103.8,837.8 104.6,834.8 105.4,836.4 106.2,836.3 107.1,837.9 107.9,835.4 108.7,837.7 109.5,836.5 110.3,837.0 111.2,836.7 112.0,837.7 112.8,836.5 113.6,837.9 114.5,838.9 115.3,840.7 116.1,838.4 117.0,841.9 117.8,842.2 118.6,841.3 119.4,842.1 120.3,841.7 121.1,843.4 121.9,842.5 122.7,842.4 123.6,842.6 124.4,842.8 125.2,843.0 126.0,842.7 126.8,844.9 127.7,842.3 128.5,841.3 129.3,843.9 130.1,843.7 131.0,843.8 131.8,843.1 132.6,843.0 133.4,843.1 134.3,843.3 135.1,842.0 135.9,841.9 136.8,843.2 137.6,842.0 138.4,840.7 139.2,842.8 140.1,841.5 140.9,840.3 141.7,840.3 142.6,841.7 143.4,841.2 144.2,841.5 145.0,841.7 145.9,842.6 146.7,844.1 147.5,843.4 148.3,843.0 149.2,844.9 150.0,844.8 150.8,845.8 151.7,846.4 152.5,845.8 153.3,846.2 154.1,846.6 155.0,846.2 155.8,847.9 156.6,848.7 157.4,848.3 158.3,848.4 159.1,848.7 159.9,848.2 160.7,848.1 161.6,848.3 162.4,847.9 163.2,848.0 164.0,847.1 164.8,848.3 165.7,848.0 166.5,847.1 167.3,846.1 168.1,847.6 169.0,848.3 169.8,846.9 170.6,847.0 171.4,846.7 172.3,847.3 173.1,846.0 173.9,847.2 174.8,846.0 175.6,846.7 176.4,845.9 177.3,845.5 178.1,844.4 178.9,844.7 179.8,844.8 180.6,845.3 181.4,844.6 182.2,843.5 183.1,843.8 183.9,843.8 184.7,842.6 185.5,842.0 186.4,841.6 187.2,842.1 188.0,842.0 188.8,841.2 189.7,842.2 190.5,841.8 191.3,841.8 192.2,843.3 193.0,843.2 193.8,842.2 194.6,843.0 195.4,843.4 196.3,842.8 197.1,843.3 197.9,844.0 198.8,842.4 199.6,844.1 200.4,844.5 201.2,844.2 202.1,842.7 202.9,843.7 203.7,842.7 204.5,843.5 205.3,843.4 206.2,842.9 207.0,842.1 207.8,842.0 208.7,842.8 209.5,841.4 210.3,842.2 211.1,842.1 211.9,841.4 212.8,843.1 213.6,841.2 214.4,842.5 215.2,839.4 216.1,839.1 216.9,841.2 217.7,840.8 218.5,839.9 219.4,839.9 220.2,838.5 221.0,839.0 221.9,838.4 222.7,838.6 223.5,839.1 224.4,838.2 225.2,838.1 226.0,837.5 226.8,837.8 227.7,838.3 228.5,838.2 229.3,839.4 230.1,838.0 230.9,840.1 231.8,838.3 232.6,839.8 233.4,838.7 234.2,840.5 235.1,839.6 235.9,839.9 236.7,840.3 237.5,839.6 238.3,839.6 239.2,839.1 240.0,841.7 240.8,840.6 241.6,840.9 242.5,841.5 243.3,843.2 244.1,840.8 244.9,842.5 245.8,842.3 246.6,843.2 247.4,841.8 248.2,843.0 249.1,844.1 249.9,844.9 250.7,845.2 251.5,843.7 252.4,844.6 253.2,844.7 254.0,843.9 254.9,843.9 255.7,845.4 256.5,845.1 257.4,844.9 258.2,845.9 259.0,844.4 259.8,845.5 260.7,845.2 261.5,845.2 262.3,845.6 263.2,845.4 264.0,845.5 264.8,845.5 265.6,846.8 266.5,845.2 267.3,846.2 268.1,845.9 269.0,845.3 269.8,846.2 270.6,845.2 271.4,846.9 272.3,845.8 273.1,846.2 273.9,847.0 274.8,847.6 275.6,847.9 276.4,848.2 277.2,847.6 278.1,847.3 278.9,848.6 279.7,848.7 280.5,848.1 281.4,849.7 282.2,849.4 283.0,848.8 283.8,850.0 284.7,849.0 285.5,849.6 286.3,850.7 287.1,849.6 288.0,850.9 288.8,850.2 289.6,851.9 290.4,850.9 291.3,851.6 292.1,850.5 292.9,851.4 293.7,852.3 294.6,852.1 295.4,850.5 296.2,852.5 297.1,852.5 297.9,851.7 298.7,853.0 299.5,851.3 300.4,852.1 301.2,853.0 302.0,852.4 302.9,851.6 303.7,849.3 304.5,848.1 305.3,848.8 306.1,846.8 307.0,847.0 307.8,845.5 308.6,846.9 309.4,846.4 310.3,846.0 311.1,845.4 311.9,845.1 312.7,844.6 313.6,844.9 314.4,844.5 315.2,844.4 316.0,843.5 316.8,844.9 317.7,843.5 318.5,844.0 319.3,843.7 320.1,842.4 321.0,842.1 321.8,844.4 322.6,843.5 323.4,844.1 324.3,844.1 325.1,844.7 325.9,844.0 326.8,845.0 327.6,845.0 328.4,845.6 329.2,844.2 330.1,846.7 330.9,846.6 331.7,845.4 332.6,846.4 333.4,847.1 334.2,847.8 335.1,847.6 335.9,848.9 336.7,848.2 337.5,847.7 338.4,848.2 339.2,849.4 340.0,848.3 340.9,849.2 341.7,849.2 342.5,848.8 343.4,849.0 344.2,848.0 345.0,848.0 345.9,847.4 346.7,847.3 347.5,846.5 348.3,847.1 349.2,846.6 350.0,846.2 350.8,847.2 351.7,847.2 352.5,846.6 353.3,847.6 354.2,847.2 355.0,847.1 355.8,846.4 356.6,846.1 357.5,847.9 358.3,848.1 359.1,848.8 359.9,848.9 360.8,849.9 361.6,849.2 362.4,850.2 363.2,849.5 364.1,848.9 364.9,850.6 365.7,852.3 366.6,850.5 367.4,852.7 368.2,851.9 369.0,852.5 369.9,853.2 370.7,853.7 371.5,853.2 372.3,853.4 373.2,853.1 374.0,852.7 374.8,851.1 375.6,852.1 376.5,851.8 377.3,851.5 378.1,848.3 379.0,848.8 379.8,846.8 380.6,848.0 381.4,847.8 382.3,846.3 383.1,845.7 383.9,846.6 384.7,846.6 385.5,845.2 386.4,845.3 387.2,843.4 388.0,844.3 388.8,844.9 389.7,844.9 390.5,845.9 391.3,844.0 392.1,843.2 393.0,845.1 393.8,844.4 394.6,845.0 395.5,845.3 396.3,845.2 397.1,846.1 398.0,846.3 398.8,844.5 399.6,846.0 400.5,847.7 401.3,846.3 402.1,847.6 402.9,847.2 403.8,847.2 404.6,848.9 405.4,848.2 406.2,847.0 407.1,847.4 407.9,845.6 408.7,845.6 409.5,846.5 410.3,845.5 411.2,844.4 412.0,845.1 412.8,844.7 413.6,845.6 414.5,845.5 415.3,844.8 416.1,844.8 417.0,845.2 417.8,845.3 418.6,846.6 419.4,846.9 420.3,846.9 421.1,846.4 421.9,845.7 422.8,846.4 423.6,845.3 424.4,845.5 425.2,844.0 426.1,844.7 426.9,845.8 427.7,843.9 428.5,843.4 429.4,844.1 430.2,845.2 431.0,844.9 431.8,843.4 432.7,843.1 433.5,843.2 434.3,842.4 435.1,843.2 435.9,843.1 436.8,842.4 437.6,843.1 438.4,843.5 439.2,843.1 440.1,843.1 440.9,844.6 441.7,845.4 442.6,844.0 443.4,844.0 444.2,844.7 445.0,844.3 445.9,844.0 446.7,845.7 447.5,844.1 448.3,844.5 449.2,844.7 450.0,844.7 450.8,845.4 451.6,846.1 452.5,846.9 453.3,846.5 454.1,846.3 454.9,845.6 455.8,846.6 456.6,846.2 457.4,846.9 458.3,847.9 459.1,847.5 459.9,847.4 460.7,847.2 461.6,847.9 462.4,848.2 463.2,847.6 464.0,848.0 464.9,849.1 465.7,847.4 466.5,848.4 467.3,848.0 468.1,850.0 469.0,849.4 469.8,849.5 470.6,849.5 471.4,849.6 472.3,849.7 473.1,848.5 473.9,849.9 474.7,850.2 475.6,848.9 476.4,850.6 477.2,850.6 478.1,849.2 478.9,850.0 479.7,850.2 480.5,850.2 481.4,850.9 482.2,849.9 483.0,850.7 483.9,851.1 484.7,851.6 485.5,851.2 486.4,851.1 487.2,851.9 488.0,850.1 488.8,852.2 489.7,851.4 490.5,850.8 491.3,851.5 492.1,850.6 492.9,850.5 493.8,851.8 494.6,851.6 495.4,852.7 496.2,851.5 497.1,851.2 497.9,851.4 498.7,853.2 499.5,851.9 500.4,851.4 501.2,851.1 502.0,851.0 502.9,851.6 503.7,851.9 504.5,852.4 505.3,852.3 506.2,851.6 507.0,850.9 507.8,850.6 508.6,849.4 509.5,850.0 510.3,850.8 511.1,850.1 512.0,850.4 512.8,849.0 513.6,850.3 514.4,849.9 515.3,849.7 516.1,850.0 516.9,848.1 517.7,849.3 518.6,849.1 519.4,851.0 520.2,849.6 521.0,849.3 521.9,850.3 522.7,849.0 523.5,850.7 524.4,849.2 525.2,849.7 526.0,849.1 526.8,850.3 527.7,848.2 528.5,850.2 529.3,849.1 530.1,849.6 531.0,848.7 531.8,849.6 532.6,849.5 533.5,849.7 534.3,849.5 535.1,849.6 535.9,849.8 536.8,848.8 537.6,848.2 538.4,848.0 539.2,849.3 540.0,848.5 540.9,849.5 541.7,848.7 542.5,847.9 543.4,849.2 544.2,849.8 545.0,848.3 545.8,847.8 546.6,847.9 547.5,849.2 548.3,848.3 549.1,848.4 550.0,849.3 550.8,848.9 551.6,849.0 552.4,848.6 553.2,848.6 554.1,849.2 554.9,849.3 555.7,849.7 556.5,849.0 557.4,849.6 558.2,849.8 559.0,849.6 559.9,850.0 560.7,850.3 561.5,849.8 562.3,849.6 563.2,848.7 564.0,849.4 564.8,849.0 565.6,848.7 566.5,848.2 567.3,849.0 568.1,850.2 569.0,848.6 569.8,848.2 570.6,848.0 571.4,846.9 572.3,846.9 573.1,846.0 573.9,845.6 574.7,845.8 575.5,845.4 576.4,844.7 577.2,843.9 578.0,844.2 578.8,843.2 579.6,844.5 580.5,843.8 581.3,844.0 582.1,844.6 583.0,844.4 583.8,843.1 584.6,843.8 585.4,844.3 586.2,843.2 587.1,842.3 587.9,843.9 588.7,844.0 589.5,844.3 590.4,844.1 591.2,844.1 592.0,844.2 592.9,845.0 593.7,844.3 594.5,844.4 595.3,843.2 596.2,843.7 597.0,842.2 597.8,842.3 598.7,839.8 599.5,840.9 600.3,840.8 601.1,840.7 602.0,842.1 602.8,841.6 603.6,841.4 604.5,841.2 605.3,843.1 606.1,842.4 606.9,842.5 607.8,841.7 608.6,843.3 609.4,842.9 610.2,842.5 611.1,842.7 611.9,841.8 612.7,843.6 613.5,842.2 614.4,843.4 615.2,842.4 616.0,842.1 616.8,842.7 617.7,842.4 618.5,841.4 619.3,842.0 620.2,842.3 621.0,841.6 621.8,840.7 622.6,841.3 623.5,840.7 624.3,840.8 625.1,841.1 625.9,840.9 626.8,840.7 627.6,839.5 628.4,840.9 629.3,840.5 630.1,840.3 630.9,840.6 631.7,841.8 632.6,839.6 633.4,839.3 634.2,840.9 635.0,839.8 635.9,841.2 636.7,839.6 637.5,839.9 638.4,840.8 639.2,840.8 640.0,840.4 640.8,840.4 641.7,839.9 642.5,839.7 643.3,839.8 644.1,840.8 645.0,840.3 645.8,839.8 646.6,840.5 647.5,841.3 648.3,842.0 649.1,841.6 650.0,842.1 650.8,842.9 651.7,844.9 652.5,843.8 653.3,844.9 654.2,843.5 655.0,845.6 655.8,844.0 656.6,844.2 657.5,844.5 658.3,844.8 659.1,845.0 660.0,845.2 660.8,845.0 661.6,844.6 662.4,846.7 663.2,845.1 664.1,845.3 664.9,846.2 665.7,845.2 666.5,844.7 667.4,844.2 668.2,845.0 669.0,842.7 669.8,842.5 670.7,843.0 671.5,841.2 672.3,841.8 673.1,842.8 674.0,841.5 674.8,841.6 675.6,841.8 676.4,840.4 677.3,841.2 678.1,840.4 678.9,840.0 679.8,840.4 680.6,840.4 681.4,840.0 682.2,839.6 683.0,840.6 683.9,840.6 684.7,840.0 685.5,839.4 686.4,838.6 687.2,838.6 688.0,838.2 688.8,839.4 689.7,840.1 690.5,840.3 691.3,839.9 692.1,839.9 693.0,840.5 693.8,840.7 694.6,841.3 695.5,842.1 696.3,840.9 697.1,843.0 697.9,840.4 698.8,840.8 699.6,841.3 700.4,841.4 701.2,841.8 702.1,843.3 702.9,841.2 703.7,842.3 704.5,841.1 705.4,841.3 706.2,840.3 707.0,842.5 707.9,840.7 708.7,840.2 709.5,842.0 710.3,840.4 711.1,840.4 712.0,839.9 712.8,839.2 713.6,838.5 714.4,839.1 715.3,840.0 716.1,838.9 716.9,838.1 717.8,838.7 718.6,837.0 719.4,838.3 720.2,837.0 721.0,836.2 721.9,836.9 722.7,836.5 723.5,835.6 724.4,835.7 725.2,835.9 726.0,835.9 726.8,834.6 727.6,833.7 728.5,837.2 729.3,835.9 730.1,836.1 731.0,837.0 731.8,836.7 732.6,838.0 733.4,836.1 734.3,836.5 735.1,835.4 735.9,837.0 736.7,835.4 737.6,836.0 738.4,835.9 739.2,833.8 740.0,834.1 740.9,834.4 741.7,833.6 742.5,833.1 743.4,833.5 744.2,833.2 745.0,831.8 745.8,831.8 746.7,832.0 747.5,831.3 748.3,831.3 749.1,830.5 750.0,832.6 750.8,831.2 751.6,831.6 752.5,831.5 753.3,831.6 754.1,831.7 754.9,832.0 755.8,833.9 756.6,835.5 757.4,836.0 758.2,835.9 759.0,835.5 759.9,835.0 760.7,835.9 761.5,833.9 762.4,834.4 763.2,834.6 764.0,833.9 764.8,832.7 765.6,832.4 766.5,834.0 767.3,832.0 768.1,832.4 769.0,832.5 769.8,831.9 770.6,830.4 771.4,830.0 772.3,831.0 773.1,830.3 773.9,830.4 774.8,830.4 775.6,830.2 776.4,828.9 777.3,828.4 778.1,830.0 778.9,828.7 779.8,828.0 780.6,827.2 781.4,829.4 782.2,828.5 783.1,829.1 783.9,830.7 784.7,830.9 785.5,831.4 786.4,830.6 787.2,829.9 788.0,831.6 788.9,832.5 789.7,832.6 790.5,834.1 791.3,833.6 792.1,832.4 793.0,833.4 793.8,832.7 794.6,832.3 795.5,833.2 796.3,831.1 797.1,832.8 797.9,832.6 798.8,830.3 799.6,831.4 800.4,831.2 801.2,830.4 802.0,830.6 802.9,830.2 803.7,830.7 804.5,830.1 805.4,828.8 806.2,830.9 807.0,830.5 807.8,829.4 808.7,830.7 809.5,831.5 810.3,829.1 811.1,830.0 812.0,830.0 812.8,830.8 813.6,830.3 814.5,829.6 815.3,831.6 816.1,830.9 816.9,832.1 817.8,833.7 818.6,832.1 819.4,832.8 820.2,834.1 821.1,833.9 821.9,834.8 822.7,834.9 823.5,837.3 824.4,836.3 825.2,836.6 826.0,836.9 826.9,837.5 827.7,836.6 828.5,838.0 829.3,838.6 830.1,837.1 831.0,837.9 831.8,837.6 832.6,837.2 833.4,839.2 834.2,837.9 835.1,837.5 835.9,836.6 836.7,837.0 837.5,836.7 838.4,836.7 839.2,836.8 840.0,838.3 840.8,837.7 841.6,838.2 842.5,838.2 843.3,839.5 844.1,837.4 845.0,837.2 845.8,838.5 846.6,838.8 847.4,838.9 848.2,838.7 849.1,839.9 849.9,840.9 850.7,840.1 851.6,840.0 852.4,841.3 853.2,840.5 854.0,840.5 854.9,840.9 855.7,839.1 856.5,842.0 857.4,840.6 858.2,841.1 859.0,840.9 859.8,841.0 860.7,839.8 861.5,841.9 862.3,841.6 863.2,841.9 864.0,844.4 864.8,841.8 865.6,843.7 866.5,843.6 867.3,843.1 868.1,846.0 869.0,844.0 869.8,845.7 870.6,845.4 871.4,845.4 872.3,844.5 873.1,845.9 873.9,845.0 874.7,843.8 875.5,843.6 876.4,844.5 877.2,843.4 878.0,844.3 878.8,844.3 879.7,843.7 880.5,842.8 881.3,843.3 882.1,844.5 883.0,844.0 883.8,845.7 884.6,844.2 885.5,844.8 886.3,845.1 887.1,844.7 887.9,844.9 888.8,845.5 889.6,844.7 890.4,845.2 891.2,844.9 892.1,846.7 892.9,845.5 893.7,846.2 894.5,843.7 895.4,845.6 896.2,845.3 897.0,846.2 897.9,846.1 898.7,845.8 899.5,846.5 900.3,847.4 901.1,847.7 902.0,846.8 902.8,848.0 903.6,846.8 904.4,847.6 905.3,846.5 906.1,847.7 906.9,848.6 907.8,846.6 908.6,847.6 909.4,845.7 910.2,846.2 911.1,848.4 911.9,846.4 912.7,846.8 913.5,845.3 914.4,846.5 915.2,846.1 916.0,847.6 916.8,846.4 917.7,848.7 918.5,846.2 919.3,847.3 920.2,845.7 921.0,846.9 921.8,848.1 922.6,847.3 923.5,846.5 924.3,847.8 925.1,848.2 925.9,848.0 926.8,848.4 927.6,846.8 928.4,849.4 929.2,848.9 930.1,847.2 930.9,850.2 931.7,848.8 932.5,849.8 933.4,848.3 934.2,849.6 935.0,849.0 935.9,851.1 936.7,850.7 937.5,850.5 938.3,851.1 939.1,852.4 940.0,851.4 940.8,852.6 941.6,851.3 942.5,850.8 943.3,851.6 944.1,851.6 945.0,851.9 945.8,852.3 946.6,851.3 947.5,851.2 948.3,851.9 949.2,851.6 950.0,851.1 950.8,851.2 951.7,849.4 952.5,850.5 953.3,849.7 954.2,850.4 955.0,851.2 955.8,849.2 956.6,850.8 957.5,849.6 958.3,849.6 959.1,849.2 960.0,849.9 960.8,848.7 961.6,847.5 962.4,849.0 963.2,848.4 964.1,848.8 964.9,848.5 965.7,847.1 966.6,847.9 967.4,847.6 968.2,847.2 969.0,847.6 969.9,847.9 970.7,847.5 971.5,848.0 972.3,849.0 973.1,847.8 974.0,848.6 974.8,848.2 975.6,847.9 976.4,848.1 977.3,848.2 978.1,848.9 978.9,847.4 979.8,847.9 980.6,847.4 981.4,846.7 982.2,844.3 983.1,846.2 983.9,845.9 984.7,844.9 985.5,845.7 986.4,846.7 987.2,844.9 988.0,845.4 988.9,846.5 989.7,844.6 990.5,845.2 991.4,846.2 992.2,846.7 993.0,847.0 993.8,846.7 994.7,847.8 995.5,846.5 996.3,845.4 997.2,846.2 998.0,846.8 998.8,847.0 999.6,845.7 1000.5,847.7 1001.3,847.2 1002.1,848.0 1003.0,849.5 1003.8,848.7 1004.6,848.7 1005.4,849.5 1006.2,849.4 1007.1,851.7 1007.9,851.2 1008.7,851.1 1009.5,849.9 1010.4,849.8 1011.2,850.4 1012.0,848.5 1012.9,850.7 1013.7,849.0 1014.5,849.8 1015.3,849.9 1016.1,849.0 1017.0,849.7 1017.8,849.8 1018.6,850.5 1019.5,849.4 1020.3,850.3 1021.1,849.2 1021.9,848.9 1022.7,849.7 1023.6,848.9 1024.4,849.5 1025.2,849.9 1026.0,850.4 1026.8,849.9 1027.7,848.8 1028.5,850.9 1029.3,850.2 1030.1,850.0 1031.0,849.8 1031.8,850.9 1032.6,850.8 1033.4,851.1 1034.3,850.5 1035.1,851.7 1035.9,850.4 1036.8,850.9 1037.6,850.7 1038.4,851.3 1039.2,850.1 1040.1,850.4 1040.9,850.4 1041.7,850.1 1042.6,850.1 1043.4,849.8 1044.2,851.1 1045.1,851.6 1045.9,849.9 1046.7,851.2 1047.5,849.9 1048.4,850.1 1049.2,850.5 1050.0,850.9 1050.8,851.1 1051.7,849.5 1052.5,850.0 1053.3,851.0 1054.1,850.8 1054.9,852.5 1055.8,850.8 1056.6,850.6 1057.4,851.9 1058.2,849.3 1059.1,850.0 1059.9,853.3 1060.7,851.0 1061.5,851.6 1062.3,851.5 1063.2,851.1 1064.0,851.7 1064.8,851.0 1065.7,852.7 1066.5,852.6 1067.3,852.7 1068.1,852.1 1069.0,852.0 1069.8,853.6 1070.6,853.7 1071.5,855.3 1072.3,854.5 1073.1,855.5 1074.0,856.8 1074.8,857.6 1075.6,857.9 1076.5,857.5 1077.3,858.5 1078.1,860.4 1079.0,859.7 1079.8,858.4 1080.6,860.3 1081.4,858.9 1082.2,859.0 1083.1,858.4 1083.9,860.1 1084.7,859.1 1085.5,858.9 1086.4,858.4 1087.2,858.1 1088.0,859.1 1088.9,859.0 1089.7,860.1 1090.5,858.4 1091.3,858.7 1092.2,859.7 1093.0,859.6 1093.8,858.5 1094.6,860.0 1095.5,859.3 1096.3,859.6 1097.1,859.2 1097.9,859.7 1098.8,858.7 1099.6,858.8 1100.4,859.8 1101.2,859.3 1102.0,859.2 1102.9,859.8 1103.7,859.2 1104.5,859.3 1105.3,857.5 1106.2,858.6 1107.0,859.6 1107.8,858.4 1108.6,858.8 1109.5,859.2 1110.3,858.9 1111.1,859.6 1111.9,859.3 1112.8,858.9 1113.6,859.8 1114.4,857.7 1115.3,856.5 1116.1,856.2 1116.9,855.4 1117.8,853.8 1118.6,852.2 1119.4,851.6 1120.2,851.1 1121.1,850.4 1121.9,850.1 1122.7,849.3 1123.6,849.8 1124.4,848.9 1125.2,851.8 1126.0,852.1 1126.8,852.0 1127.7,852.0 1128.5,851.2 1129.3,853.0 1130.2,851.5 1131.0,852.6 1131.8,851.6 1132.6,851.5 1133.5,850.0 1134.3,850.5 1135.1,848.2 1135.9,849.7 1136.8,848.2 1137.6,846.9 1138.4,847.0 1139.2,847.0 1140.1,848.2 1140.9,847.8 1141.7,847.8 1142.5,848.8 1143.4,849.2 1144.2,849.9 1145.0,850.6 1145.9,851.3 1146.7,851.1 1147.5,852.3 1148.3,849.8 1149.2,851.8 1150.0,852.9 1150.8,851.6 1151.7,852.7 1152.5,853.4 1153.3,852.5 1154.1,853.5 1155.0,854.7 1155.8,854.4 1156.6,856.0 1157.4,856.9 1158.2,855.5 1159.1,855.1 1159.9,856.3 1160.7,856.2 1161.5,856.0 1162.4,857.0 1163.2,857.3 1164.0,857.7 1164.8,859.0 1165.7,859.4 1166.5,859.3 1167.3,858.7 1168.1,859.3 1169.0,859.0 1169.8,859.2 1170.6,858.3 1171.4,856.8 1172.2,859.6 1173.1,858.6 1173.9,858.6 1174.7,859.0 1175.5,858.5 1176.4,857.8 1177.2,858.6 1178.0,857.1 1178.8,856.7 1179.7,855.5 1180.5,855.5 1181.3,855.4 1182.2,854.6 1183.0,854.4 1183.8,853.0 1184.6,853.4 1185.5,852.0 1186.3,851.9 1187.1,851.3 1188.0,851.6 1188.8,851.9 1189.6,851.0 1190.4,849.9 1191.2,850.2 1192.1,850.5 1192.9,850.0 1193.7,849.5 1194.5,848.0 1195.4,848.1 1196.2,847.6 1197.0,848.3 1197.9,849.3 1198.7,849.6 1199.5,849.8 1200.3,851.0 1201.2,850.6 1202.0,851.3 1202.8,852.1 1203.6,851.6 1204.5,852.5 1205.3,852.6 1206.1,853.3 1207.0,854.4 1207.8,854.9 1208.6,855.8 1209.4,856.3 1210.3,855.7 1211.1,858.3 1211.9,858.5 1212.7,857.2 1213.6,858.0 1214.4,858.7 1215.2,858.6 1216.1,858.3 1216.9,857.3 1217.7,854.9 1218.5,858.2 1219.3,856.2 1220.2,855.6 1221.0,853.9 1221.8,854.0 1222.7,854.0 1223.5,852.4 1224.3,853.0 1225.1,852.8 1226.0,854.4 1226.8,853.9 1227.6,855.5 1228.4,853.9 1229.2,856.6 1230.1,856.5 1230.9,856.5 1231.7,858.0 1232.5,857.7 1233.4,859.0 1234.2,859.7 1235.0,859.7 1235.9,860.5 1236.7,860.0 1237.5,860.7 1238.4,859.5 1239.2,859.1 1240.0,859.3 1240.9,859.0 1241.7,858.1 1242.5,859.1 1243.4,858.2 1244.2,858.8 1245.0,858.8 1245.8,858.6 1246.7,858.3 1247.5,859.1 1248.3,859.0 1249.2,860.0 1250.0,859.4 1250.8,859.7 1251.7,858.7 1252.5,858.8 1253.3,858.1 1254.2,858.4 1255.0,859.5 1255.8,858.6 1256.7,858.3 1257.5,857.7 1258.3,858.9 1259.1,857.5 1260.0,858.0 1260.8,856.9 1261.6,857.3 1262.4,855.6 1263.2,855.1 1264.1,856.5 1264.9,855.2 1265.7,855.3 1266.5,855.4 1267.4,855.0 1268.2,854.4 1269.0,853.1 1269.8,853.1 1270.7,853.3 1271.5,853.4 1272.3,853.4 1273.2,853.3 1274.0,852.5 1274.8,853.0 1275.6,853.7 1276.5,852.4 1277.3,852.6 1278.1,853.6 1278.9,854.1 1279.8,853.3 1280.6,853.0 1281.4,852.3 1282.2,852.9 1283.0,852.4 1283.9,853.1 1284.7,853.5 1285.5,853.3 1286.3,853.9 1287.2,852.3 1288.0,852.1 1288.8,853.7 1289.7,853.3 1290.5,851.7 1291.3,852.3 1292.2,851.3 1293.0,851.8 1293.8,851.8 1294.7,852.1 1295.5,850.5 1296.3,850.1 1297.2,851.2 1298.0,850.4 1298.8,851.8 1299.7,850.2 1300.5,850.7 1301.3,849.5 1302.1,852.4 1303.0,852.7 1303.8,852.3 1304.6,852.0 1305.4,851.0 1306.2,851.6 1307.1,852.4 1307.9,854.3 1308.7,853.6 1309.6,852.5 1310.4,853.2 1311.2,853.2 1312.0,853.2 1312.9,852.1 1313.7,852.4 1314.5,853.4 1315.3,853.1 1316.2,852.4 1317.0,854.3 1317.8,852.7 1318.6,852.2 1319.5,853.1 1320.3,853.0 1321.1,852.3 1321.9,853.6 1322.8,853.0 1323.6,852.3 1324.4,852.7 1325.2,852.6 1326.1,851.8 1326.9,852.5 1327.7,851.5 1328.5,851.6 1329.4,852.2 1330.2,850.8 1331.0,851.3 1331.8,850.8 1332.7,851.9 1333.5,850.9 1334.3,852.5 1335.1,852.2 1336.0,850.6 1336.8,851.1 1337.6,850.7 1338.4,850.8 1339.2,851.2 1340.1,851.7 1340.9,852.1 1341.7,852.0 1342.6,849.9 1343.4,850.6 1344.2,850.9 1345.0,850.9 1345.9,851.3 1346.7,851.8 1347.5,851.1 1348.3,851.1 1349.2,853.3 1350.0,852.2 1350.8,853.4 1351.6,851.6 1352.5,853.0 1353.3,853.3 1354.1,853.2 1354.9,851.9 1355.8,852.9 1356.6,852.1 1357.4,851.9 1358.2,852.7 1359.1,853.1 1359.9,852.6 1360.7,852.7 1361.5,853.2 1362.4,852.3 1363.2,853.1 1364.0,853.3 1364.8,853.3 1365.7,853.2 1366.5,852.1 1367.3,852.6 1368.2,852.6 1369.0,853.4 1369.8,851.7 1370.6,853.0 1371.5,851.8 1372.3,853.4 1373.1,852.6 1373.9,853.0 1374.8,853.6 1375.6,854.1 1376.4,852.3 1377.2,853.1 1378.1,851.6 1378.9,852.9 1379.7,852.5 1380.6,853.4 1381.4,852.8 1382.2,852.8 1383.0,851.9 1383.9,852.4 1384.7,851.8 1385.5,852.6 1386.4,851.4 1387.2,852.6 1388.0,853.1 1388.8,854.1 1389.7,853.3 1390.5,853.1 1391.3,852.6 1392.2,852.9 1393.0,851.6 1393.8,851.7 1394.6,849.9 1395.5,850.6 1396.3,851.6 1397.1,849.4 1397.9,850.6 1398.8,850.1 1399.6,849.7 1400.4,850.0 1401.2,849.5 1402.0,848.5 1402.9,849.1 1403.7,847.7 1404.5,849.7 1405.4,848.4 1406.2,848.8 1407.0,847.3 1407.8,848.9 1408.7,848.1 1409.5,847.4 1410.3,847.0 1411.1,846.9 1412.0,845.8 1412.8,846.0 1413.6,845.7 1414.4,845.8 1415.2,846.4 1416.1,845.9 1416.9,845.0 1417.7,844.7 1418.6,843.5 1419.4,842.8 1420.2,841.5 1421.1,841.2 1421.9,840.7 1422.7,841.7 1423.5,841.9 1424.4,842.6 1425.2,843.3 1426.0,843.2 1426.8,842.9 1427.6,842.9 1428.5,843.3 1429.3,844.2 1430.1,843.4 1430.9,842.8 1431.8,843.4 1432.6,844.1 1433.4,844.0 1434.2,843.4 1435.0,841.4 1435.9,842.4 1436.7,842.8 1437.5,842.9 1438.3,843.2 1439.2,841.1 1440.0,841.8 1440.8,840.5 1441.7,841.6 1442.5,841.5 1443.3,842.5 1444.2,842.1 1445.0,840.9 1445.8,842.1 1446.7,842.6 1447.5,843.4 1448.3,842.0 1449.1,842.0 1450.0,842.3 1450.8,843.5 1451.6,842.7 1452.5,843.1 1453.3,843.4 1454.1,842.6 1455.0,844.0 1455.8,842.1 1456.6,844.6 1457.4,842.9 1458.2,842.7 1459.1,842.9 1459.9,842.7 1460.7,842.9 1461.5,843.0 1462.4,842.8 1463.2,843.5 1464.0,843.9 1464.8,843.3 1465.7,843.9 1466.5,843.2 1467.3,844.0 1468.1,843.7 1469.0,843.2 1469.8,844.1 1470.6,843.8 1471.5,843.5 1472.3,843.9 1473.1,844.2 1473.9,843.0 1474.8,843.4 1475.6,844.2 1476.4,843.7 1477.2,844.2 1478.0,845.3 1478.9,842.7 1479.7,843.8 1480.5,843.3 1481.3,844.5 1482.2,843.8 1483.0,842.4 1483.8,844.1 1484.6,843.3 1485.5,843.1 1486.3,843.3 1487.1,843.4 1487.9,842.6 1488.8,842.9 1489.6,844.0 1490.4,842.2 1491.3,842.3 1492.1,843.0 1492.9,841.6 1493.7,842.0 1494.6,842.1 1495.4,841.1 1496.2,841.3 1497.0,840.7 1497.9,841.0 1498.7,841.1 1499.5,840.7 1500.4,840.7 1501.2,840.6 1502.0,840.6 1502.8,839.2 1503.7,839.8 1504.5,840.6 1505.3,839.4 1506.2,839.5 1507.0,839.8 1507.8,839.4 1508.6,840.4 1509.5,840.1 1510.3,840.1 1511.1,840.8 1511.9,841.2 1512.8,839.5 1513.6,840.3 1514.4,840.5 1515.2,839.8 1516.0,841.4 1516.9,842.5 1517.7,841.6 1518.5,842.0 1519.3,839.9 1520.2,841.0 1521.0,840.5 1521.8,842.1 1522.6,841.5 1523.4,841.6 1524.3,842.2 1525.1,842.4 1525.9,843.1 1526.7,843.2 1527.6,843.1 1528.4,841.6 1529.2,843.8 1530.0,843.3 1530.8,842.4 1531.7,843.8 1532.5,843.7 1533.3,844.1 1534.2,845.0 1535.0,843.7 1535.8,845.3 1536.6,845.9 1537.4,844.5 1538.3,846.5 1539.1,845.3 1539.9,845.1 1540.8,846.1 1541.6,845.2 1542.4,843.7 1543.2,844.4 1544.0,845.1 1544.9,844.0 1545.7,843.9 1546.5,844.4 1547.4,844.6 1548.2,844.4 1549.0,844.5 1549.9,845.6 1550.7,846.4 1551.5,844.0 1552.3,846.3 1553.2,846.9 1554.0,845.8 1554.8,847.7 1555.7,845.9 1556.5,847.8 1557.3,848.5 1558.2,848.6 1559.0,845.9 1559.8,847.7 1560.7,846.8 1561.5,847.7 1562.3,848.2 1563.1,847.4 1564.0,848.1 1564.8,845.7 1565.6,846.1 1566.4,846.2 1567.2,846.9 1568.1,847.2 1568.9,845.6 1569.7,845.2 1570.5,846.2 1571.3,844.3 1572.2,845.3 1573.0,844.0 1573.8,844.1 1574.6,845.6 1575.5,843.9 1576.3,844.0 1577.1,843.4 1577.9,844.3 1578.8,844.9 1579.6,844.2 1580.4,842.8 1581.2,843.9 1582.0,844.6 1582.9,842.8 1583.7,843.3 1584.5,842.7 1585.3,842.9 1586.2,842.5 1587.0,842.2 1587.8,843.4 1588.6,843.0 1589.5,841.4 1590.3,842.2 1591.1,842.4 1592.0,842.2 1592.8,843.1 1593.6,842.8 1594.5,843.3 1595.3,842.1 1596.1,842.5 1596.9,842.7 1597.8,842.8 1598.6,842.8 1599.4,842.6 1600.3,843.0 1601.1,844.3 1601.9,842.6 1602.8,842.0 1603.6,843.4 1604.4,842.5 1605.2,843.7 1606.0,843.8 1606.8,844.2 1607.6,843.1 1608.4,841.8 1609.2,844.1 1610.0,843.6 1610.8,843.8 1611.6,842.9 1612.4,842.6 1613.2,842.8 1614.0,841.5 1614.8,843.4 1615.6,842.3 1616.4,842.2 1617.2,842.9 1618.0,842.0 1618.8,843.1 1619.6,842.1 1620.4,844.1 1621.2,843.3 1622.0,842.9 1622.8,842.6 1623.6,842.4 1624.4,842.0 1625.2,840.9 1626.0,841.9 1626.8,841.7 1627.6,841.8 1628.4,842.2 1629.2,840.8 1630.0,841.2 1630.8,841.6 1631.6,841.7 1632.4,842.7 1633.2,843.9 1634.0,842.0 1634.8,842.5 1635.6,842.1 1636.4,842.3 1637.2,843.3 1638.0,842.3 1638.8,842.6 1639.6,842.2 1640.4,841.8 1641.2,843.0 1642.0,842.1 1642.8,843.3 1643.6,841.5 1644.4,842.6 1645.2,843.5 1646.0,841.9 1646.8,842.6 1647.6,843.4 1648.4,842.7 1649.2,841.8 1650.0,842.2 1650.8,842.6 1651.6,842.0 1652.4,842.2 1653.2,842.6 1654.0,841.6 1654.8,843.7 1655.6,841.0 1656.5,840.3 1657.3,839.3 1658.1,840.4 1658.9,839.4 1659.8,841.3 1660.6,841.4 1661.4,840.8 1662.2,839.6 1663.1,839.9 1663.9,840.8 1664.7,841.4 1665.5,842.0 1666.3,842.8 1667.2,842.6 1668.0,842.6 1668.8,843.2 1669.7,841.8 1670.5,844.4 1671.3,842.9 1672.1,842.9 1672.9,844.1 1673.8,844.7 1674.6,844.5 1675.4,845.2 1676.2,845.5 1677.1,846.0 1677.9,845.9 1678.7,845.3 1679.5,845.8 1680.4,846.7 1681.2,845.7 1682.0,845.8 1682.8,844.5 1683.7,846.3 1684.5,847.6 1685.3,846.8 1686.2,846.1 1687.0,847.2 1687.8,847.3 1688.6,847.5 1689.5,845.8 1690.3,845.8 1691.1,847.2 1691.9,847.2 1692.8,847.2 1693.6,845.9 1694.4,847.6 1695.2,848.3 1696.1,847.7 1696.9,848.6 1697.7,847.0 1698.5,846.7 1699.4,847.8 1700.2,847.1 1701.0,844.7 1701.9,845.2 1702.7,846.3 1703.5,845.7 1704.3,847.2 1705.2,847.0 1706.0,846.7 1706.8,845.8 1707.7,846.0 1708.5,846.9 1709.3,846.3 1710.2,847.1 1711.0,847.0 1711.8,847.6 1712.6,847.3 1713.5,846.8 1714.3,845.5 1715.1,846.4 1716.0,846.1 1716.8,847.4 1717.6,845.7 1718.4,846.2 1719.2,846.7 1720.1,846.7 1720.9,846.7 1721.7,846.1 1722.5,846.7 1723.4,845.0 1724.2,846.1 1725.0,844.1 1725.8,844.6 1726.7,845.0 1727.5,844.9 1728.3,844.1 1729.1,843.6 1730.0,843.0 1730.8,842.1 1731.6,842.3 1732.5,844.7 1733.3,842.2 1734.1,842.3 1734.9,842.2 1735.8,843.1 1736.6,843.0 1737.4,842.7 1738.2,842.1 1739.0,842.9 1739.9,841.9 1740.7,843.1 1741.5,843.8 1742.3,842.0 1743.2,842.8 1744.0,842.2 1744.8,842.2 1745.6,841.5 1746.5,842.4 1747.3,842.3 1748.1,843.1 1748.9,843.8 1749.8,841.3 1750.6,842.8 1751.4,841.1 1752.2,840.9 1753.1,840.1 1753.9,841.0 1754.7,841.2 1755.5,839.9 1756.4,839.8 1757.2,838.7 1758.0,838.7 1758.8,837.7 1759.7,838.2 1760.5,836.5 1761.3,839.3 1762.2,838.4 1763.0,836.9 1763.8,836.7 1764.6,836.6 1765.5,836.7 1766.3,836.6 1767.1,837.6 1767.9,835.7 1768.8,834.5 1769.6,835.8 1770.4,835.7 1771.2,834.6 1772.0,835.6 1772.9,834.7 1773.7,834.0 1774.5,834.3 1775.4,833.1 1776.2,833.5 1777.0,834.7 1777.9,834.1 1778.7,833.4 1779.5,833.6 1780.4,834.3 1781.2,833.8 1782.0,835.4 1782.8,835.5 1783.7,836.2 1784.5,838.4 1785.3,837.5 1786.1,838.7" fill="none" stroke="#a4a4a4" stroke-width="1.2"/>
<text x="205.6" y="849.5" fill="#333" font-size="13" text-anchor="middle" >1989</text>
<text x="341" y="849.5" fill="#333" font-size="13" text-anchor="middle" >1992</text>
<text x="478.5" y="849.5" fill="#333" font-size="13" text-anchor="middle" >1995</text>
<text x="617" y="849.5" fill="#333" font-size="13" text-anchor="middle" >1998</text>
<text x="755" y="849.5" fill="#333" font-size="13" text-anchor="middle" >2001</text>
<text x="893" y="849.5" fill="#333" font-size="13" text-anchor="middle" >2004</text>
<text x="1033" y="849.5" fill="#333" font-size="13" text-anchor="middle" >2007</text>
<text x="1173.5" y="849.5" fill="#333" font-size="13" text-anchor="middle" >2010</text>
<text x="1314.2" y="849.5" fill="#333" font-size="13" text-anchor="middle" >2013</text>
<text x="1455" y="849.5" fill="#333" font-size="13" text-anchor="middle" >2016</text>
<text x="1594" y="849.5" fill="#333" font-size="13" text-anchor="middle" >2019</text>
<text x="1735" y="849.5" fill="#333" font-size="13" text-anchor="middle" >2022</text>
<rect x="60" y="822" width="1726.5" height="2" fill="#3a3a3a"/>
<rect x="1786.5" y="822.5" width="7.5" height="32" fill="#efefef" stroke="#9098a8" stroke-width="1"/>
<rect x="1794.6" y="822.5" width="3.6" height="32" fill="#a8a8a8"/><rect x="1794.6" y="822.5" width="3.6" height="1.2" fill="#333"/><rect x="1794.6" y="853.3" width="3.6" height="1.2" fill="#333"/>
<rect x="1798.5" y="822.5" width="8" height="32" fill="#efefef" stroke="#9098a8" stroke-width="1"/>
<text id="t_info_date" x="3.72" y="59.48" fill="#333" font-size="15.00" textLength="74.60" lengthAdjust="spacingAndGlyphs">2023/03/24</text>
<text id="t_info_o" x="102.20" y="59.86" fill="#0a9e0a" font-size="15.00" textLength="42.21" lengthAdjust="spacingAndGlyphs">102.59</text>
<text id="t_info_h" x="167.82" y="59.86" fill="#ff1010" font-size="15.00" textLength="41.25" lengthAdjust="spacingAndGlyphs">102.71</text>
<text id="t_info_c" x="234.20" y="59.86" fill="#0a9e0a" font-size="15.00" textLength="42.13" lengthAdjust="spacingAndGlyphs">102.52</text>
<text id="t_info_l" x="299.68" y="59.86" fill="#0a9e0a" font-size="15.00" textLength="42.45" lengthAdjust="spacingAndGlyphs">102.50</text>
<text id="t_info_v" x="366.00" y="59.86" fill="#333" font-size="15.00" textLength="7.54" lengthAdjust="spacingAndGlyphs">0</text>
<text id="t_info_p" x="378.62" y="59.86" fill="#0a9e0a" font-size="15.00" textLength="44.89" lengthAdjust="spacingAndGlyphs">-0.07%</text>
<text id="t_ma5" x="59.58" y="76.10" fill="#ff8fb2" font-size="13.00" textLength="92.43" lengthAdjust="spacingAndGlyphs">MA5: 102.8383</text>
<text id="t_ma10" x="163.44" y="76.10" fill="#1fb5d6" font-size="13.00" textLength="99.09" lengthAdjust="spacingAndGlyphs">MA10: 103.4537</text>
<text id="t_ma20" x="274.30" y="76.10" fill="#e8306e" font-size="13.00" textLength="100.37" lengthAdjust="spacingAndGlyphs">MA20: 104.1776</text>
<text id="t_ma30" x="386.44" y="76.10" fill="#8aba18" font-size="13.00" textLength="99.49" lengthAdjust="spacingAndGlyphs">MA30: 104.1448</text>
<text id="t_dif" x="70.34" y="725.00" fill="#5266f0" font-size="13.00" textLength="74.67" lengthAdjust="spacingAndGlyphs">DIF: -0.3099</text>
<text id="t_dea" x="171.68" y="725.00" fill="#f050ef" font-size="13.00" textLength="81.57" lengthAdjust="spacingAndGlyphs">DEA: -0.0176</text>
<text id="t_macd" x="274.58" y="725.00" fill="#b83232" font-size="13.00" textLength="93.11" lengthAdjust="spacingAndGlyphs">MACD: -0.5846</text>
<text id="t_tab1" x="30.20" y="28.52" fill="#333" font-size="15.00" textLength="6.34" lengthAdjust="spacingAndGlyphs">1</text>
<text id="t_tabK1" x="93.68" y="28.86" fill="#333" font-size="15.00" textLength="9.30" lengthAdjust="spacingAndGlyphs">K</text>
<text id="t_tabK2" x="143.82" y="27.86" fill="#333" font-size="15.00" textLength="8.90" lengthAdjust="spacingAndGlyphs">K</text>
<text id="t_tabK3" x="194.58" y="27.86" fill="#333" font-size="15.00" textLength="8.90" lengthAdjust="spacingAndGlyphs">K</text>
<text id="t_tabK4" x="244.54" y="27.86" fill="#333" font-size="15.00" textLength="9.78" lengthAdjust="spacingAndGlyphs">K</text>
<text id="t_tab5" x="283.10" y="28.52" fill="#333" font-size="15.00" textLength="5.78" lengthAdjust="spacingAndGlyphs">5</text>
<text id="t_tab30" x="329.58" y="28.52" fill="#333" font-size="15.00" textLength="15.17" lengthAdjust="spacingAndGlyphs">30</text>
<text id="t_it_macd" x="205.18" y="815.52" fill="#fff" font-size="15.00" textLength="43.05" lengthAdjust="spacingAndGlyphs">MACD</text>
<text id="t_it_kdj" x="284.18" y="815.52" fill="#888" font-size="15.00" textLength="25.30" lengthAdjust="spacingAndGlyphs">KDJ</text>
<text id="t_it_rsi" x="355.18" y="815.52" fill="#888" font-size="15.00" textLength="22.30" lengthAdjust="spacingAndGlyphs">RSI</text>
<text id="t_it_boll" x="419.20" y="815.52" fill="#888" font-size="15.00" textLength="33.40" lengthAdjust="spacingAndGlyphs">BOLL</text>
<text id="t_it_wr" x="495.00" y="815.52" fill="#888" font-size="15.00" textLength="22.28" lengthAdjust="spacingAndGlyphs">WR</text>
<text id="t_it_dmi" x="561.68" y="815.52" fill="#888" font-size="15.00" textLength="27.82" lengthAdjust="spacingAndGlyphs">DMI</text>
</svg>
</body></html>
